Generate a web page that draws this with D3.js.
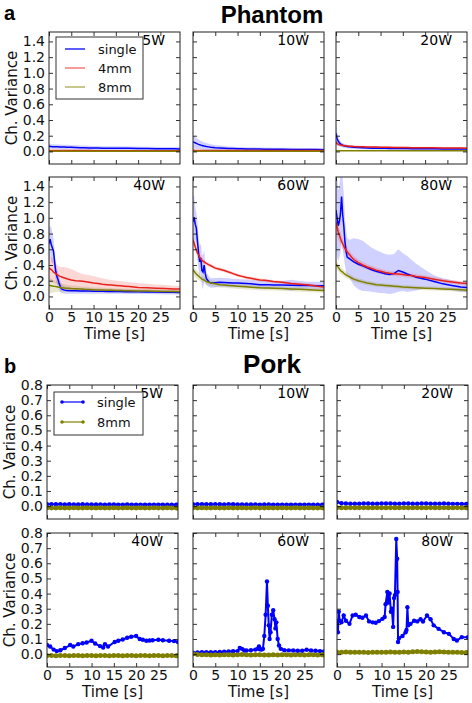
<!DOCTYPE html>
<html><head><meta charset="utf-8">
<script src="https://cdn.jsdelivr.net/npm/d3@7"></script>
<style>body{margin:0;background:#fff}</style>
</head><body>
<script>
// ---------------- DATA ----------------
const powers = ["5W","10W","20W","40W","60W","80W"];
const xTicks = [0,5,10,15,20,25];
const phantomYTicks = [0.0,0.2,0.4,0.6,0.8,1.0,1.2,1.4];
const porkYTicks = [0.0,0.1,0.2,0.3,0.4,0.5,0.6,0.7,0.8];
const phantomSeries = ["single","4mm","8mm"];
const porkSeries = ["single","8mm"];

// Phantom time axis (s)
const tA = [0,0.25,0.5,0.75,1, 1.25,1.5,1.75,2,2.25, 2.5,2.75,3,3.5,4, 5,6,7,8,9, 10,11,12,13,14, 15,16,17,18,20, 22,24,26,28,29.4];

// Phantom 5W
const ph5_single    = [0.065,0.063,0.062,0.061,0.060, 0.060,0.059,0.058,0.058,0.057, 0.057,0.056,0.056,0.055,0.054, 0.052,0.050,0.048,0.047,0.045, 0.044,0.043,0.042,0.041,0.041, 0.040,0.041,0.040,0.039,0.038, 0.036,0.035,0.034,0.033,0.032];
const ph5_single_sd = [0.030,0.030,0.030,0.030,0.030, 0.030,0.030,0.030,0.030,0.030, 0.030,0.030,0.030,0.030,0.030, 0.029,0.028,0.028,0.027,0.027, 0.026,0.026,0.025,0.025,0.025, 0.025,0.025,0.025,0.024,0.024, 0.024,0.024,0.023,0.023,0.023];
const ph5_4mm       = [0.013,0.013,0.012,0.012,0.012, 0.012,0.012,0.012,0.012,0.012, 0.012,0.012,0.011,0.011,0.011, 0.011,0.011,0.011,0.011,0.011, 0.010,0.010,0.010,0.010,0.010, 0.010,0.010,0.010,0.010,0.010, 0.010,0.010,0.010,0.010,0.010];
const ph5_4mm_sd    = [0.006,0.006,0.006,0.006,0.006, 0.006,0.006,0.006,0.006,0.006, 0.006,0.006,0.006,0.006,0.006, 0.006,0.006,0.006,0.006,0.006, 0.006,0.006,0.006,0.006,0.006, 0.006,0.006,0.006,0.006,0.006, 0.006,0.006,0.006,0.006,0.006];
const ph5_8mm       = [0.003,0.003,0.003,0.003,0.003, 0.003,0.003,0.003,0.003,0.003, 0.003,0.003,0.003,0.003,0.003, 0.003,0.003,0.003,0.003,0.003, 0.003,0.003,0.003,0.003,0.003, 0.003,0.003,0.003,0.003,0.003, 0.003,0.003,0.003,0.003,0.003];
const ph5_8mm_sd    = [0.004,0.004,0.004,0.004,0.004, 0.004,0.004,0.004,0.004,0.004, 0.004,0.004,0.004,0.004,0.004, 0.004,0.004,0.004,0.004,0.004, 0.004,0.004,0.004,0.004,0.004, 0.004,0.004,0.004,0.004,0.004, 0.004,0.004,0.004,0.004,0.004];

// Phantom 10W
const ph10_single    = [0.120,0.115,0.110,0.102,0.096, 0.090,0.085,0.080,0.076,0.072, 0.068,0.065,0.062,0.058,0.054, 0.048,0.044,0.041,0.038,0.036, 0.034,0.033,0.032,0.031,0.031, 0.030,0.029,0.029,0.028,0.027, 0.026,0.025,0.024,0.023,0.022];
const ph10_single_sd = [0.080,0.080,0.075,0.070,0.065, 0.060,0.058,0.055,0.052,0.050, 0.048,0.046,0.044,0.040,0.037, 0.033,0.030,0.028,0.026,0.025, 0.024,0.023,0.022,0.022,0.021, 0.021,0.020,0.020,0.020,0.020, 0.020,0.019,0.019,0.019,0.019];
const ph10_4mm       = [0.014,0.014,0.013,0.013,0.013, 0.013,0.013,0.013,0.013,0.013, 0.013,0.013,0.013,0.013,0.013, 0.013,0.012,0.012,0.012,0.012, 0.012,0.012,0.012,0.012,0.012, 0.012,0.012,0.012,0.012,0.012, 0.012,0.012,0.012,0.012,0.012];
const ph10_4mm_sd    = [0.006,0.006,0.006,0.006,0.006, 0.006,0.006,0.006,0.006,0.006, 0.006,0.006,0.006,0.006,0.006, 0.006,0.006,0.006,0.006,0.006, 0.006,0.006,0.006,0.006,0.006, 0.006,0.006,0.006,0.006,0.006, 0.006,0.006,0.006,0.006,0.006];
const ph10_8mm       = [0.003,0.003,0.003,0.003,0.003, 0.003,0.003,0.003,0.003,0.003, 0.003,0.003,0.003,0.003,0.003, 0.003,0.003,0.003,0.003,0.003, 0.003,0.003,0.003,0.003,0.003, 0.003,0.003,0.003,0.003,0.003, 0.003,0.003,0.003,0.003,0.003];
const ph10_8mm_sd    = [0.004,0.004,0.004,0.004,0.004, 0.004,0.004,0.004,0.004,0.004, 0.004,0.004,0.004,0.004,0.004, 0.004,0.004,0.004,0.004,0.004, 0.004,0.004,0.004,0.004,0.004, 0.004,0.004,0.004,0.004,0.004, 0.004,0.004,0.004,0.004,0.004];

// Phantom 20W
const ph20_single    = [0.230,0.160,0.130,0.110,0.095, 0.086,0.079,0.073,0.069,0.066, 0.063,0.061,0.059,0.056,0.053, 0.049,0.046,0.044,0.042,0.041, 0.040,0.039,0.038,0.037,0.037, 0.036,0.036,0.035,0.035,0.034, 0.033,0.032,0.032,0.031,0.030];
const ph20_single_sd = [0.130,0.090,0.060,0.045,0.035, 0.030,0.028,0.026,0.025,0.024, 0.023,0.022,0.022,0.021,0.020, 0.020,0.019,0.019,0.018,0.018, 0.018,0.018,0.017,0.017,0.017, 0.017,0.017,0.017,0.016,0.016, 0.016,0.016,0.016,0.016,0.016];
const ph20_4mm       = [0.120,0.100,0.092,0.086,0.082, 0.079,0.076,0.074,0.072,0.070, 0.069,0.068,0.067,0.065,0.063, 0.061,0.059,0.057,0.056,0.055, 0.054,0.053,0.052,0.051,0.050, 0.049,0.049,0.048,0.048,0.047, 0.046,0.045,0.044,0.043,0.042];
const ph20_4mm_sd    = [0.030,0.025,0.020,0.018,0.016, 0.015,0.015,0.015,0.014,0.014, 0.014,0.014,0.014,0.013,0.013, 0.013,0.013,0.013,0.013,0.013, 0.012,0.012,0.012,0.012,0.012, 0.012,0.012,0.012,0.012,0.012, 0.012,0.012,0.012,0.012,0.012];
const ph20_8mm       = [0.010,0.010,0.010,0.010,0.010, 0.010,0.010,0.010,0.010,0.010, 0.010,0.010,0.010,0.010,0.010, 0.010,0.010,0.010,0.010,0.010, 0.010,0.010,0.010,0.010,0.010, 0.010,0.010,0.010,0.010,0.010, 0.010,0.010,0.010,0.010,0.010];
const ph20_8mm_sd    = [0.005,0.005,0.005,0.005,0.005, 0.005,0.005,0.005,0.005,0.005, 0.005,0.005,0.005,0.005,0.005, 0.005,0.005,0.005,0.005,0.005, 0.005,0.005,0.005,0.005,0.005, 0.005,0.005,0.005,0.005,0.005, 0.005,0.005,0.005,0.005,0.005];

// Phantom 40W
const ph40_single    = [0.670,0.730,0.660,0.620,0.580, 0.450,0.320,0.260,0.220,0.170, 0.130,0.100,0.090,0.080,0.075, 0.072,0.071,0.070,0.069,0.068, 0.067,0.066,0.065,0.064,0.063, 0.062,0.062,0.061,0.060,0.058, 0.057,0.055,0.053,0.052,0.050];
const ph40_single_sd = [0.200,0.170,0.220,0.200,0.160, 0.130,0.110,0.100,0.090,0.080, 0.070,0.060,0.050,0.045,0.040, 0.038,0.036,0.035,0.034,0.033, 0.032,0.031,0.030,0.030,0.030, 0.029,0.029,0.028,0.028,0.028, 0.027,0.027,0.027,0.026,0.026];
const ph40_4mm       = [0.360,0.350,0.340,0.330,0.310, 0.300,0.290,0.280,0.270,0.262, 0.255,0.250,0.245,0.235,0.225, 0.210,0.200,0.195,0.190,0.180, 0.170,0.165,0.155,0.150,0.145, 0.140,0.135,0.130,0.125,0.115, 0.110,0.105,0.100,0.095,0.093];
const ph40_4mm_sd    = [0.180,0.170,0.160,0.150,0.140, 0.130,0.130,0.125,0.120,0.120, 0.120,0.125,0.130,0.135,0.140, 0.140,0.120,0.100,0.090,0.090, 0.090,0.080,0.075,0.070,0.065, 0.060,0.060,0.058,0.056,0.055, 0.050,0.048,0.045,0.042,0.040];
const ph40_8mm       = [0.140,0.138,0.135,0.132,0.130, 0.128,0.126,0.124,0.120,0.117, 0.115,0.112,0.110,0.107,0.105, 0.100,0.097,0.094,0.090,0.088, 0.085,0.083,0.081,0.080,0.078, 0.075,0.074,0.073,0.072,0.070, 0.068,0.066,0.064,0.062,0.060];
const ph40_8mm_sd    = [0.100,0.095,0.090,0.085,0.080, 0.075,0.070,0.065,0.060,0.058, 0.055,0.053,0.050,0.047,0.045, 0.040,0.038,0.036,0.034,0.032, 0.030,0.030,0.029,0.028,0.028, 0.027,0.027,0.026,0.026,0.025, 0.025,0.025,0.025,0.025,0.025];

// Phantom 60W
const ph60_single    = [0.950,1.010,0.920,0.870,0.700, 0.550,0.440,0.490,0.330,0.310, 0.400,0.290,0.230,0.190,0.170, 0.175,0.180,0.178,0.175,0.172, 0.170,0.168,0.165,0.160,0.155, 0.150,0.150,0.148,0.147,0.145, 0.142,0.140,0.138,0.137,0.135];
const ph60_single_sd = [0.320,0.280,0.220,0.200,0.250, 0.200,0.200,0.180,0.200,0.220, 0.200,0.120,0.080,0.070,0.060, 0.060,0.058,0.056,0.055,0.054, 0.053,0.052,0.052,0.051,0.050, 0.050,0.050,0.050,0.050,0.050, 0.070,0.055,0.050,0.050,0.050];
const ph60_4mm       = [0.720,0.680,0.630,0.590,0.550, 0.530,0.500,0.480,0.460,0.450, 0.440,0.430,0.420,0.405,0.390, 0.360,0.345,0.330,0.310,0.290, 0.270,0.255,0.240,0.230,0.220, 0.210,0.205,0.200,0.190,0.180, 0.165,0.155,0.145,0.130,0.120];
const ph60_4mm_sd    = [0.060,0.055,0.050,0.045,0.040, 0.035,0.032,0.030,0.028,0.027, 0.026,0.025,0.025,0.024,0.023, 0.022,0.022,0.021,0.021,0.020, 0.020,0.020,0.020,0.020,0.020, 0.020,0.020,0.020,0.020,0.020, 0.020,0.020,0.020,0.020,0.020];
const ph60_8mm       = [0.340,0.320,0.300,0.285,0.270, 0.260,0.245,0.235,0.220,0.215, 0.210,0.200,0.190,0.180,0.170, 0.160,0.150,0.145,0.140,0.135, 0.130,0.126,0.122,0.118,0.114, 0.110,0.108,0.106,0.104,0.100, 0.095,0.090,0.086,0.080,0.076];
const ph60_8mm_sd    = [0.060,0.058,0.055,0.053,0.050, 0.048,0.046,0.045,0.044,0.043, 0.042,0.041,0.040,0.040,0.040, 0.038,0.037,0.036,0.035,0.035, 0.034,0.033,0.033,0.032,0.032, 0.031,0.031,0.030,0.030,0.030, 0.030,0.030,0.030,0.030,0.030];

// Phantom 80W
const ph80_single    = [1.100,1.000,0.900,0.950,1.050, 1.270,1.040,0.900,0.700,0.580, 0.500,0.490,0.480,0.460,0.440, 0.410,0.390,0.365,0.340,0.320, 0.305,0.290,0.280,0.290,0.330, 0.310,0.285,0.265,0.245,0.220, 0.190,0.160,0.140,0.120,0.115];
const ph80_single_sd = [0.500,0.500,0.450,0.450,0.500, 0.500,0.450,0.400,0.300,0.270, 0.250,0.240,0.240,0.270,0.300, 0.320,0.320,0.300,0.280,0.270, 0.260,0.250,0.250,0.250,0.270, 0.240,0.230,0.200,0.170,0.120, 0.080,0.070,0.065,0.065,0.065];
const ph80_4mm       = [0.950,0.880,0.820,0.780,0.740, 0.700,0.670,0.640,0.610,0.590, 0.570,0.550,0.535,0.500,0.470, 0.430,0.400,0.375,0.355,0.335, 0.320,0.305,0.295,0.290,0.285, 0.280,0.270,0.265,0.255,0.240, 0.220,0.200,0.185,0.170,0.165];
const ph80_4mm_sd    = [0.120,0.110,0.100,0.090,0.080, 0.075,0.070,0.065,0.060,0.058, 0.055,0.053,0.050,0.047,0.045, 0.040,0.038,0.036,0.034,0.033, 0.032,0.031,0.030,0.030,0.030, 0.030,0.029,0.028,0.028,0.027, 0.026,0.026,0.025,0.025,0.025];
const ph80_8mm       = [0.410,0.390,0.370,0.350,0.330, 0.320,0.310,0.295,0.285,0.275, 0.265,0.258,0.250,0.235,0.220, 0.200,0.185,0.170,0.160,0.150, 0.145,0.140,0.135,0.130,0.125, 0.120,0.117,0.113,0.110,0.105, 0.100,0.095,0.090,0.085,0.080];
const ph80_8mm_sd    = [0.050,0.049,0.048,0.046,0.045, 0.044,0.043,0.042,0.040,0.039, 0.038,0.036,0.035,0.033,0.032, 0.030,0.029,0.028,0.027,0.026, 0.026,0.025,0.025,0.025,0.025, 0.025,0.025,0.025,0.025,0.025, 0.025,0.025,0.025,0.025,0.025];

// Pork: common time axis for flat series
const tP = [0,1,2,3,4, 5,6,7,8,9, 10,11,12,13,14, 15,16,17,18,19, 20,21,22,23,24, 25,26,27,28,29, 29.4];
const pk5_single  = [0.013,0.012,0.012,0.012,0.011, 0.012,0.011,0.011,0.012,0.011, 0.011,0.011,0.011,0.010,0.011, 0.011,0.010,0.010,0.011,0.010, 0.010,0.010,0.010,0.010,0.010, 0.010,0.010,0.009,0.010,0.009, 0.009];
const pk5_8mm     = [-0.011,-0.012,-0.012,-0.011,-0.012, -0.012,-0.011,-0.012,-0.012,-0.011, -0.012,-0.012,-0.011,-0.012,-0.012, -0.011,-0.012,-0.012,-0.011,-0.012, -0.012,-0.011,-0.012,-0.012,-0.011, -0.012,-0.012,-0.011,-0.012,-0.012, -0.012];
const pk10_single = [0.013,0.013,0.012,0.013,0.012, 0.012,0.012,0.011,0.012,0.012, 0.011,0.011,0.011,0.011,0.011, 0.010,0.011,0.011,0.010,0.010, 0.010,0.010,0.010,0.010,0.010, 0.010,0.010,0.010,0.009,0.009, 0.009];
const pk10_8mm    = [-0.011,-0.012,-0.011,-0.012,-0.012, -0.011,-0.012,-0.012,-0.011,-0.012, -0.012,-0.011,-0.012,-0.012,-0.011, -0.012,-0.012,-0.011,-0.012,-0.012, -0.011,-0.012,-0.012,-0.011,-0.012, -0.012,-0.011,-0.012,-0.012,-0.011, -0.012];
const pk20_single = [0.027,0.019,0.017,0.016,0.016, 0.016,0.017,0.017,0.016,0.016, 0.017,0.017,0.017,0.016,0.016, 0.017,0.017,0.016,0.016,0.017, 0.017,0.016,0.016,0.016,0.017, 0.016,0.015,0.015,0.014,0.014, 0.014];
const pk20_8mm    = [-0.010,-0.011,-0.011,-0.010,-0.011, -0.011,-0.010,-0.011,-0.011,-0.010, -0.011,-0.011,-0.010,-0.011,-0.011, -0.010,-0.011,-0.011,-0.010,-0.011, -0.011,-0.010,-0.011,-0.011,-0.010, -0.011,-0.011,-0.010,-0.011,-0.011, -0.011];
const pk40_8mm    = [-0.009,-0.009,-0.010,-0.009,-0.009, -0.010,-0.009,-0.009,-0.010,-0.009, -0.009,-0.010,-0.009,-0.009,-0.010, -0.009,-0.009,-0.010,-0.009,-0.009, -0.010,-0.009,-0.009,-0.010,-0.009, -0.009,-0.010,-0.009,-0.009,-0.010, -0.009];
const pk60_8mm    = [0.002,-0.002,-0.004,-0.004,-0.005, -0.004,-0.005,-0.004,-0.004,-0.005, -0.004,-0.003,-0.004,-0.005,-0.004, -0.004,-0.006,-0.005,-0.004,-0.005, -0.004,-0.004,-0.005,-0.004,-0.004, -0.005,-0.004,-0.004,-0.005,-0.004, -0.004];
const pk80_8mm    = [0.013,0.012,0.014,0.013,0.012, 0.013,0.012,0.011,0.012,0.013, 0.012,0.013,0.014,0.012,0.013, 0.014,0.013,0.016,0.018,0.015, 0.014,0.013,0.014,0.015,0.014, 0.013,0.012,0.012,0.011,0.011, 0.011];

// Pork single, 40W / 60W / 80W (own time points)
const t40 = [0,0.7,1.5,2.2,3, 4,5.2,5.9,7,8, 8.9,10,10.8,11.9,12.6, 13,13.7,15.2,16,17, 18,18.9,20,20.8,21.5, 22.3,23,23.7,25,26, 27.4,28.5,29.4];
const pk40_single = [0.060,0.050,0.030,0.020,0.026, 0.040,0.060,0.050,0.066,0.072, 0.077,0.088,0.070,0.053,0.044, 0.066,0.050,0.080,0.088,0.097, 0.108,0.115,0.120,0.100,0.095, 0.088,0.090,0.092,0.095,0.092, 0.088,0.086,0.080];
const t60 = [0,1,2,3,4, 5,6,7,8,9, 10,10.5,11,11.5,12, 13,14,14.5,14.8,15, 15.4,15.7,16,16.3,16.6, 16.8,17,17.2,17.4,17.7, 18,18.3,18.5,18.7,19, 19.3,19.7,20.5,21.5,22.5, 23.5,24.5,25.5,26.5,27.5, 28.5,29.4];
const pk60_single = [0.010,0.011,0.012,0.012,0.013, 0.013,0.014,0.016,0.018,0.019, 0.020,0.040,0.035,0.024,0.024, 0.026,0.030,0.035,0.050,0.032, 0.030,0.035,0.120,0.260,0.480, 0.320,0.190,0.100,0.145,0.260, 0.290,0.230,0.170,0.210,0.100, 0.057,0.035,0.026,0.025,0.024, 0.022,0.022,0.029,0.024,0.022, 0.020,0.018];
const t80 = [0,0.2,0.4,0.6,1, 1.5,2,2.8,3.5,4.2, 5,5.7,6.5,7.2,8, 8.7,9.4,10.2,10.7,10.9, 11.3,11.5,11.8,12.1,12.3, 12.6,12.8,13.0,13.3,13.5, 13.6,13.7,13.9,14.7,15.4, 15.6,15.8,16,16.5,17.3, 18,18.75,19.3,20.2,21, 21.7,22.8,24,25.1,26.2, 26.9,28,29.4];
const pk80_single = [0.220,0.145,0.280,0.220,0.210, 0.255,0.220,0.200,0.255,0.260, 0.245,0.240,0.255,0.216,0.210, 0.207,0.218,0.233,0.245,0.330, 0.410,0.340,0.400,0.280,0.300, 0.180,0.370,0.390,0.760,0.630, 0.410,0.080,0.105,0.120,0.145, 0.160,0.310,0.190,0.200,0.220, 0.216,0.230,0.215,0.255,0.230, 0.190,0.167,0.145,0.134,0.100, 0.090,0.112,0.112];

// ---------------- RENDER ----------------
const W = 472, H = 703;
const FONT = "'DejaVu Sans', sans-serif";
const TFONT = "'Liberation Sans', Arial, sans-serif";
const COL = {"single":"#0000ff", "4mm":"#e8211a", "8mm":"#808000"};
const svg = d3.select("body").append("svg").attr("width", W).attr("height", H);
svg.append("rect").attr("width", W).attr("height", H).attr("fill", "#fff");

const xDomain = [0, 29.4];
let clipN = 0;

function makePanel(px, py, pw, ph, yDomain, yTicks, showY, showX, label) {
  const x = d3.scaleLinear().domain(xDomain).range([px, px + pw]);
  const y = d3.scaleLinear().domain(yDomain).range([py + ph, py]);
  const id = "clip" + (clipN++);
  svg.append("clipPath").attr("id", id).append("rect")
    .attr("x", px).attr("y", py).attr("width", pw).attr("height", ph);
  const g = svg.append("g");
  const plot = g.append("g").attr("clip-path", `url(#${id})`);
  return {x, y, g, plot, px, py, pw, ph, yTicks, showY, showX, label};
}

function finishPanel(P) {
  const {x, y, g, px, py, pw, ph, yTicks, showY, showX, label} = P;
  const fmt = d3.format(".1f");
  const ax = (gen, tx, ty) => {
    const a = g.append("g").attr("transform", `translate(${tx},${ty})`).call(gen);
    a.select(".domain").remove();
    a.selectAll("line").attr("stroke", "#000").attr("stroke-width", 0.8);
    a.selectAll("text").attr("font-family", FONT).attr("font-size", 14).attr("fill", "#111");
    return a;
  };
  ax(d3.axisBottom(x).tickValues(xTicks).tickSizeInner(-4).tickSizeOuter(0).tickPadding(3)
      .tickFormat(showX ? d3.format("d") : ""), 0, py + ph);
  ax(d3.axisTop(x).tickValues(xTicks).tickSizeInner(-4).tickSizeOuter(0).tickFormat(""), 0, py);
  ax(d3.axisLeft(y).tickValues(yTicks).tickSizeInner(-4).tickSizeOuter(0).tickPadding(4)
      .tickFormat(showY ? fmt : ""), px, 0);
  ax(d3.axisRight(y).tickValues(yTicks).tickSizeInner(-4).tickSizeOuter(0).tickFormat(""), px + pw, 0);
  g.append("rect").attr("x", px).attr("y", py).attr("width", pw).attr("height", ph)
    .attr("fill", "none").attr("stroke", "#222").attr("stroke-width", 1);
  g.append("text").attr("x", px + pw - 15).attr("y", py + 13).attr("text-anchor", "end")
    .attr("font-family", FONT).attr("font-size", 14).attr("fill", "#000").text(label);
  if (showX) {
    g.append("text").attr("x", px + pw / 2).attr("y", py + ph + 30).attr("text-anchor", "middle")
      .attr("font-family", FONT).attr("font-size", 15).attr("fill", "#111").text("Time [s]");
  }
}

function yLabel(bx, cy) {
  svg.append("text").attr("transform", `translate(${bx},${cy}) rotate(-90)`)
    .attr("text-anchor", "middle").attr("font-family", FONT).attr("font-size", 15)
    .attr("fill", "#111").text("Ch. Variance");
}

// Titles
svg.append("text").attr("x", 4).attr("y", 20).attr("font-family", TFONT).attr("font-weight", "bold")
  .attr("font-size", 20).text("a");
svg.append("text").attr("x", 272).attr("y", 22.5).attr("text-anchor", "middle").attr("font-family", TFONT)
  .attr("font-weight", "bold").attr("font-size", 24).text("Phantom");
svg.append("text").attr("x", 4).attr("y", 373).attr("font-family", TFONT).attr("font-weight", "bold")
  .attr("font-size", 20).text("b");
svg.append("text").attr("x", 272).attr("y", 373).attr("text-anchor", "middle").attr("font-family", TFONT)
  .attr("font-weight", "bold").attr("font-size", 26).text("Pork");

// ---- Phantom ----
const phData = {
  "5W":  [[ph5_single, ph5_single_sd], [ph5_4mm, ph5_4mm_sd], [ph5_8mm, ph5_8mm_sd]],
  "10W": [[ph10_single, ph10_single_sd], [ph10_4mm, ph10_4mm_sd], [ph10_8mm, ph10_8mm_sd]],
  "20W": [[ph20_single, ph20_single_sd], [ph20_4mm, ph20_4mm_sd], [ph20_8mm, ph20_8mm_sd]],
  "40W": [[ph40_single, ph40_single_sd], [ph40_4mm, ph40_4mm_sd], [ph40_8mm, ph40_8mm_sd]],
  "60W": [[ph60_single, ph60_single_sd], [ph60_4mm, ph60_4mm_sd], [ph60_8mm, ph60_8mm_sd]],
  "80W": [[ph80_single, ph80_single_sd], [ph80_4mm, ph80_4mm_sd], [ph80_8mm, ph80_8mm_sd]]
};
const aLefts = [49, 193, 336], aTops = [32, 177], aW = 131, aH = 132;
const phYDomain = [-0.16, 1.52];

powers.forEach((pw, i) => {
  const c = i % 3, r = Math.floor(i / 3);
  const P = makePanel(aLefts[c], aTops[r], aW, aH, phYDomain, phantomYTicks, c === 0, r === 1, pw);
  const area = d3.area().x((d, k) => P.x(tA[k])).y0(d => P.y(d[0] - d[1])).y1(d => P.y(d[0] + d[1]));
  const line = d3.line().x((d, k) => P.x(tA[k])).y(d => P.y(d));
  phData[pw].forEach((s, j) => {
    const pts = s[0].map((v, k) => [v, s[1][k]]);
    P.plot.append("path").attr("d", area(pts)).attr("fill", COL[phantomSeries[j]])
      .attr("fill-opacity", 0.18).attr("stroke", "none");
  });
  phData[pw].forEach((s, j) => {
    P.plot.append("path").attr("d", line(s[0])).attr("fill", "none")
      .attr("stroke", COL[phantomSeries[j]]).attr("stroke-width", 1.5);
  });
  finishPanel(P);
  if (i === 0) {
    const L = P.g.append("g");
    L.append("rect").attr("x", P.px + 7).attr("y", P.py + 5).attr("width", 87).attr("height", 62)
      .attr("fill", "#fff").attr("stroke", "#333").attr("stroke-width", 1);
    phantomSeries.forEach((nm, j) => {
      const yy = P.py + 17 + j * 19;
      L.append("line").attr("x1", P.px + 16).attr("x2", P.px + 36).attr("y1", yy).attr("y2", yy)
        .attr("stroke", COL[nm]).attr("stroke-width", 1.5).attr("stroke-opacity", j === 0 ? 0.85 : 0.6);
      L.append("text").attr("x", P.px + 49).attr("y", yy + 5).attr("font-family", FONT)
        .attr("font-size", 13).attr("fill", "#111").text(nm);
    });
  }
});
yLabel(17, aTops[0] + aH / 2);
yLabel(17, aTops[1] + aH / 2);

// ---- Pork ----
const pkData = {
  "5W":  [[tP, pk5_single], [tP, pk5_8mm]],
  "10W": [[tP, pk10_single], [tP, pk10_8mm]],
  "20W": [[tP, pk20_single], [tP, pk20_8mm]],
  "40W": [[t40, pk40_single], [tP, pk40_8mm]],
  "60W": [[t60, pk60_single], [tP, pk60_8mm]],
  "80W": [[t80, pk80_single], [tP, pk80_8mm]]
};
const bLefts = [47, 193, 337], bTops = [385, 533], bW = 131, bH = 134;
const pkYDomain = [-0.085, 0.8];

powers.forEach((pw, i) => {
  const c = i % 3, r = Math.floor(i / 3);
  const P = makePanel(bLefts[c], bTops[r], bW, bH, pkYDomain, porkYTicks, c === 0, r === 1, pw);
  pkData[pw].forEach((s, j) => {
    const [ts, vs] = s;
    const col = COL[porkSeries[j]];
    const line = d3.line().x((d, k) => P.x(ts[k])).y(d => P.y(d));
    P.plot.append("path").attr("d", line(vs)).attr("fill", "none").attr("stroke", col)
      .attr("stroke-width", j === 0 ? 2 : 3);
    P.plot.selectAll(null).data(vs).enter().append("circle")
      .attr("cx", (d, k) => P.x(ts[k])).attr("cy", d => P.y(d)).attr("r", j === 0 ? 2.2 : 2.5).attr("fill", col);
  });
  finishPanel(P);
  if (i === 0) {
    const L = P.g.append("g");
    L.append("rect").attr("x", P.px + 7).attr("y", P.py + 7).attr("width", 89).attr("height", 43)
      .attr("fill", "#fff").attr("stroke", "#333").attr("stroke-width", 1);
    porkSeries.forEach((nm, j) => {
      const yy = P.py + 17 + j * 20;
      const col = COL[nm];
      L.append("line").attr("x1", P.px + 15).attr("x2", P.px + 36).attr("y1", yy).attr("y2", yy)
        .attr("stroke", col).attr("stroke-width", 1.2);
      [P.px + 15, P.px + 36].forEach(cx => L.append("circle").attr("cx", cx).attr("cy", yy).attr("r", 1.8).attr("fill", col));
      L.append("text").attr("x", P.px + 50).attr("y", yy + 5).attr("font-family", FONT)
        .attr("font-size", 13).attr("fill", "#111").text(nm);
    });
  }
});
yLabel(15, bTops[0] + bH / 2);
yLabel(15, bTops[1] + bH / 2);
</script>
</body></html>
